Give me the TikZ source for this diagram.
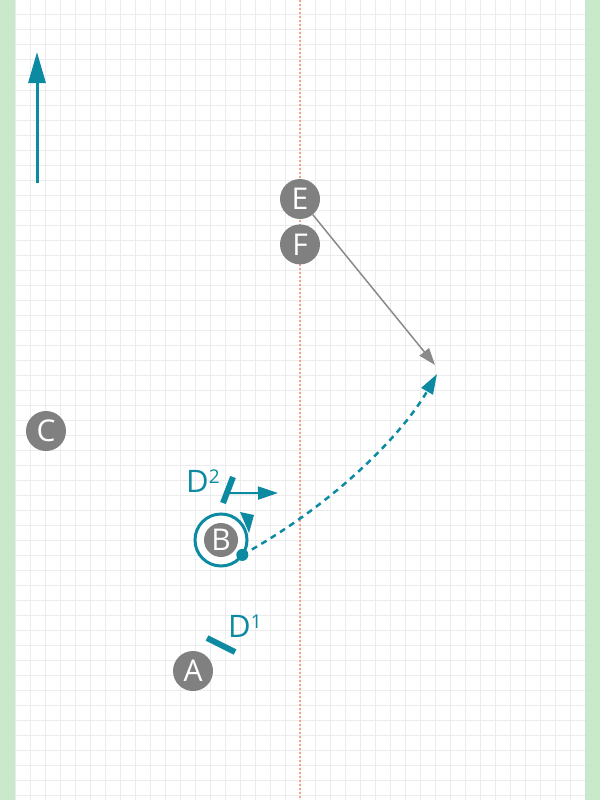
\documentclass[tikz,border=0pt]{standalone}
\usepackage{fontspec}
\setmainfont{Open Sans}
\usetikzlibrary{arrows.meta,positioning,calc}
\definecolor{figTeal}{HTML}{0B8AA2}
\definecolor{figGray}{HTML}{808080}
\definecolor{figArrow}{HTML}{8A8A8A}
\definecolor{figGreen}{HTML}{C6E6C6}
\definecolor{figGrid}{HTML}{ECECEC}
\definecolor{figRed}{HTML}{F5A58C}

\tikzset{
    disc/.style={circle, fill=figGray, text=white, inner sep=0pt, minimum size=40pt, font=\fontsize{30}{34}\selectfont},
    dlab/.style={text=figTeal, inner sep=0pt, anchor=base west, font=\fontsize{31}{34}\selectfont},
    bar/.style={figTeal, line width=6pt}
}

\newcommand{\supnum}[1]{\raisebox{9pt}{\fontsize{19}{19}\selectfont #1}}

\begin{document}
\begin{tikzpicture}[x=1pt, y=-1pt]
    \useasboundingbox (0,0) rectangle (600,800);

    % background
    \foreach \gx in {15,30,...,585} \draw[figGrid, line width=1pt] (\gx,0) -- (\gx,800);
    \foreach \gy in {15,30,...,795} \draw[figGrid, line width=1pt] (0,\gy) -- (600,\gy);
    \fill[figGreen, fill opacity=0.92] (0,0) rectangle (15,800);
    \fill[figGreen, fill opacity=0.92] (585,0) rectangle (600,800);
    \draw[figRed, line width=1.5pt, dash pattern=on 2pt off 2pt] (300,0) -- (300,800);

    % up arrow
    \coordinate (up0) at (37,183);
    \coordinate (up1) at (37,52);
    \draw[figTeal, line width=3pt, -{Triangle[length=31pt, width=17pt]}] (up0) -- (up1);

    % points
    \node[disc] (C) at (46,431) {C};
    \node[disc] (E) at (300,199) {E};
    \node[disc] (F) [below=5pt of E] {F};
    \node[disc] (A) at (193,671) {A};

    \node[circle, draw=figTeal, line width=3pt, fill=white, minimum size=52pt] (Bring) at (221,540) {};
    \node[disc, minimum size=34pt] (B) at (Bring) {B};
    \fill[figTeal] ([shift={(19,-28)}]Bring.center) -- ([shift={(33,-25)}]Bring.center) -- ([shift={(28,-7)}]Bring.center) -- cycle;

    % gray arrow
    \coordinate (g) at (435,365);
    \draw[figArrow, line width=1.5pt, -{Triangle[length=17pt, width=12pt]}] (E) -- (g);

    % dashed path
    \coordinate (t) at (437,374);
    \node[circle, fill=figTeal, inner sep=0pt, minimum size=12pt] (dot) at ([shift={(35:26)}]Bring.center) {};
    \draw[figTeal, line width=2.5pt, dash pattern=on 6pt off 5pt, -{Triangle[length=20pt, width=13pt]}]
        (dot.center) .. controls (334,504) and (402,435) .. (t);

    % D1
    \coordinate (d1a) at (207,638);
    \coordinate (d1b) at (235,652);
    \draw[bar] (d1a) -- (d1b);
    \node[dlab] (D1) at (228,637) {D\supnum{1}};

    % D2
    \coordinate (d2a) at (223,503);
    \coordinate (d2b) at (233,477);
    \coordinate (d2t) at (278,493);
    \draw[bar] (d2a) -- (d2b);
    \draw[figTeal, line width=2pt, -{Triangle[length=20pt, width=13pt]}] ($(d2a)!0.38!(d2b)$) -- (d2t);
    \node[dlab] (D2) at (186,492) {D\supnum{2}};
\end{tikzpicture}
\end{document}
